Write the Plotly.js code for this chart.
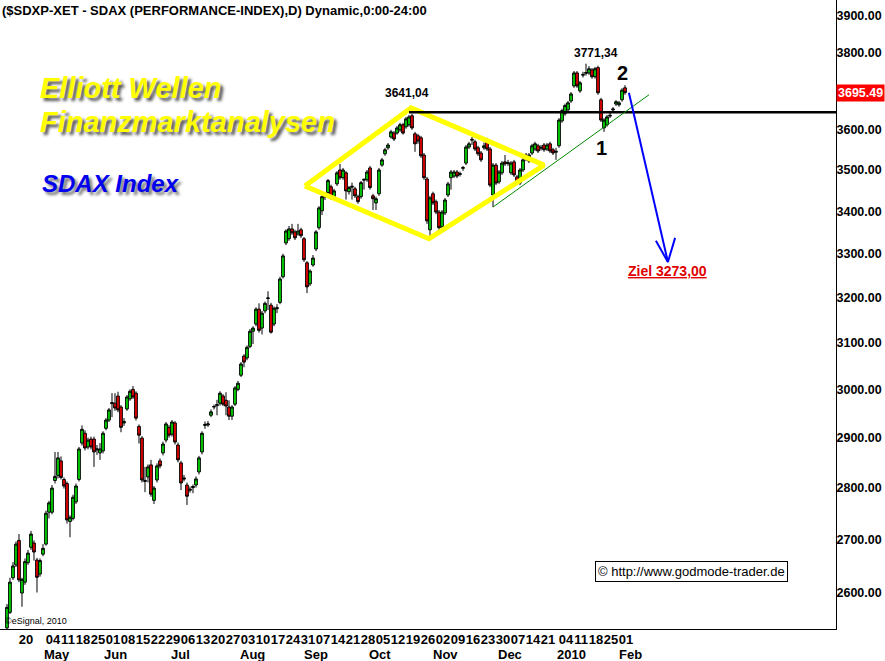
<!DOCTYPE html>
<html><head><meta charset="utf-8">
<script src="https://cdn.plot.ly/plotly-3.0.1.min.js"></script>
<style>html,body{margin:0;padding:0;background:#fff}#chart{width:885px;height:661px}</style>
</head><body><div id="chart"></div>
<script>
// Daily candles, SDAX performance index, 14 Apr 2009 .. 3 Feb 2010 (trading-day index)
const openP = [2537,2565,2628,2652,2698,2600,2620,2656,2685,2693,2661,2635,2672,2691,2752,2752,2814,2824,2853,2816,
2808,2734,2740,2772,2816,2889,2909,2881,2897,2897,2875,2869,2873,2919,2936,2970,2971,2986,2963,2930,
2959,2980,3000,2992,2923,2899,2812,2821,2845,2775,2815,2853,2869,2895,2921,2907,2930,2885,2849,2819,
2805,2797,2800,2805,2831,2871,2925,2926,2946,2963,2966,2971,2986,2977,2963,2944,2969,3000,3030,3071,
3067,3092,3125,3141,3174,3132,3170,3198,3183,3141,3175,3189,3247,3325,3335,3358,3351,3346,3356,3335,
3279,3231,3274,3311,3361,3401,3434,3445,3459,3435,3466,3500,3481,3493,3447,3458,3454,3435,3435,3475,
3476,3505,3437,3420,3442,3512,3540,3555,3582,3592,3592,3600,3613,3608,3613,3636,3590,3585,3580,3537,
3478,3356,3442,3423,3398,3363,3396,3439,3481,3485,3495,3489,3504,3517,3557,3574,3570,3555,3542,3555,
3570,3552,3439,3512,3471,3493,3520,3516,3493,3520,3483,3468,3500,3527,3522,3542,3552,3560,3554,3562,
3552,3565,3550,3544,3560,3623,3641,3651,3674,3713,3747,3700,3741,3746,3747,3755,3737,3761,3677,3605,
3613,3635,3651,3666,3664,3677,3708];
const highP = [2580,2628,2657,2696,2710,2628,2664,2680,2716,2698,2665,2664,2691,2755,2774,2805,2871,2871,2862,2820,
2812,2746,2786,2808,2881,2925,2915,2900,2902,2902,2885,2889,2913,2940,2961,2992,2992,2995,2967,2940,
2988,3000,3007,2996,2927,2903,2841,2846,2855,2803,2848,2858,2892,2932,2926,2936,2934,2890,2853,2825,
2810,2802,2806,2822,2863,2913,2933,2934,2958,2968,2978,2996,2990,2994,2977,2967,3007,3018,3058,3075,
3094,3130,3136,3178,3187,3170,3191,3214,3188,3180,3185,3247,3300,3357,3365,3370,3356,3370,3361,3339,
3283,3264,3297,3355,3412,3440,3446,3478,3464,3454,3497,3515,3505,3497,3461,3469,3459,3440,3473,3479,
3500,3510,3442,3435,3505,3530,3555,3567,3600,3597,3610,3618,3618,3633,3638,3641.04,3595,3590,3585,3542,
3483,3437,3447,3428,3403,3403,3432,3471,3500,3500,3500,3496,3510,3562,3570,3582,3575,3560,3547,3568,
3580,3557,3517,3517,3500,3522,3537,3525,3522,3525,3488,3505,3530,3542,3542,3565,3570,3565,3562,3567,
3567,3570,3555,3555,3630,3654,3667,3674,3697,3752,3752,3726,3750,3771.34,3765,3760,3763,3766,3682,3630,
3638,3645,3658,3676,3674,3707,3715];
const lowP = [2528,2562,2624,2648,2620,2575,2615,2652,2680,2660,2601,2630,2668,2688,2740,2748,2808,2818,2816,2798,
2730,2704,2736,2768,2812,2884,2874,2876,2876,2841,2865,2855,2868,2915,2932,2942,2955,2952,2911,2924,
2955,2976,2980,2935,2888,2810,2791,2810,2782,2768,2810,2838,2864,2890,2900,2902,2886,2850,2795,2812,
2766,2790,2789,2800,2826,2866,2918,2922,2942,2958,2946,2966,2965,2946,2936,2936,2965,2996,3026,3047,
3062,3088,3097,3136,3122,3118,3165,3172,3120,3136,3165,3185,3243,3320,3330,3344,3332,3342,3337,3281,
3210,3226,3270,3306,3356,3391,3427,3440,3428,3430,3461,3476,3476,3428,3440,3428,3432,3418,3430,3452,
3471,3452,3403,3403,3437,3508,3535,3550,3578,3572,3588,3595,3588,3603,3608,3600,3545,3565,3530,3476,
3370,3337,3415,3393,3350,3355,3391,3434,3452,3480,3480,3484,3498,3512,3552,3562,3547,3535,3520,3550,
3547,3458,3410,3463,3466,3488,3510,3510,3488,3483,3463,3463,3495,3522,3517,3537,3547,3542,3548,3545,
3547,3542,3537,3525,3555,3618,3636,3646,3669,3708,3708,3695,3735,3740,3742,3732,3732,3690,3620,3595,
3608,3630,3646,3661,3659,3672,3690];
const closeP = [2574,2620,2650,2691,2624,2625,2658,2674,2710,2676,2629,2660,2683,2750,2770,2799,2822,2859,2820,2803,
2737,2742,2781,2803,2877,2917,2879,2895,2881,2871,2877,2877,2909,2936,2957,2972,2961,2957,2921,2933,
2984,2996,2984,2940,2905,2815,2814,2841,2787,2799,2843,2843,2887,2928,2905,2932,2891,2855,2809,2817,
2783,2795,2802,2817,2859,2909,2927,2928,2953,2964,2968,2992,2969,2965,2944,2963,3003,3013,3054,3058,
3090,3125,3132,3174,3127,3165,3187,3199,3123,3176,3177,3242,3295,3353,3358,3349,3337,3353,3342,3286,
3224,3260,3290,3351,3408,3435,3436,3474,3432,3449,3493,3481,3500,3449,3457,3460,3437,3423,3469,3477,
3495,3457,3430,3430,3500,3525,3550,3562,3595,3577,3605,3613,3592,3628,3633,3605,3565,3572,3535,3481,
3377,3432,3420,3398,3361,3398,3427,3466,3495,3495,3485,3491,3506,3557,3565,3576,3552,3540,3525,3560,
3552,3463,3512,3468,3495,3517,3515,3518,3517,3488,3468,3500,3525,3537,3537,3560,3565,3547,3556,3550,
3562,3547,3542,3546,3625,3649,3662,3669,3692,3747,3713,3721,3743,3748,3758,3737,3758,3695,3625,3625,
3633,3637,3653,3672,3669,3702,3695.49];

// Weekly tick labels (trading-day index of first day of week)
const weekIdx = [4,13,18,23,28,33,38,43,48,53,58,63,68,73,78,83,88,93,98,103,108,113,118,123,128,133,138,143,148,153,158,163,168,173,178,184,189,194,199,204];
const weekLabels = ["20","04","11","18","25","01","08","15","22","29","06","13","20","27","03","10","17","24","31","07","14","21","28","05","12","19","26","02","09","16","23","30","07","14","21","04","11","18","25","01"];
const monthPos = [16.7,36.3,57.7,81.7,103,124.3,146.3,167.7,188,207.7];
const monthLabels = ["May","Jun","Jul","Aug","Sep","Oct","Nov","Dec","2010","Feb"];

const priceTicks = [2600,2700,2800,2900,3000,3100,3200,3300,3400,3500,3600,3800,3900];
const priceTickText = ["2600.00","2700.00","2800.00","2900.00","3000.00","3100.00","3200.00","3300.00","3400.00","3500.00","3600.00","3800.00","3900.00"];

// Drawing annotations (chart analysis)
const diamondX = [99.3,134.7,179,140.7,99.3];
const diamondY = [3461,3656,3512,3335,3461];
const resistX = [134,277];
const resistY = [3645,3645];
const trendX = [162,214];
const trendY = [3410,3690];
const arrowX = [207.3,220.3,null,216.3,220.3,222.7];
const arrowY = [3695,3281,null,3330,3281,3337];
const lastClose = 3695.49;

const FONT = 'Liberation Sans, Arial, sans-serif';
const idx = openP.map((_, i) => i);

const traces = [
  {type:'scatter', mode:'lines', x:diamondX, y:diamondY, line:{color:'#ffff00', width:5}, hoverinfo:'skip'},
  {type:'candlestick', x:idx, open:openP, high:highP, low:lowP, close:closeP, whiskerwidth:0,
   increasing:{line:{color:'#000000', width:1}, fillcolor:'#00dd00'},
   decreasing:{line:{color:'#000000', width:1}, fillcolor:'#ee0000'}},
  {type:'scatter', mode:'lines', x:resistX, y:resistY, line:{color:'#000000', width:2.5}, hoverinfo:'skip'},
  {type:'scatter', mode:'lines', x:trendX, y:trendY, line:{color:'#008800', width:1}, hoverinfo:'skip'},
  {type:'scatter', mode:'lines', x:arrowX, y:arrowY, line:{color:'#0000ff', width:2}, hoverinfo:'skip', connectgaps:false}
];

const L10 = Math.log10;
const annotations = [
  {xref:'paper', yref:'paper', x:0, y:1, xanchor:'left', yanchor:'top', showarrow:false, yshift:-1,
   text:'($SDXP-XET - SDAX (PERFORMANCE-INDEX),D) Dynamic,0:00-24:00', font:{family:FONT, size:13, weight:700, color:'#000'}},
  {xref:'paper', yref:'paper', x:0.046, y:0.8601, xanchor:'left', yanchor:'middle', showarrow:false,
   text:'Elliott Wellen', font:{family:FONT, size:29, weight:700, style:'italic', color:'#ffff00', shadow:'3px 3px 3px rgba(0,0,0,0.65)'}},
  {xref:'paper', yref:'paper', x:0.046, y:0.806, xanchor:'left', yanchor:'middle', showarrow:false,
   text:'Finanzmarktanalysen', font:{family:FONT, size:29, weight:700, style:'italic', color:'#ffff00', shadow:'3px 3px 3px rgba(0,0,0,0.65)'}},
  {xref:'paper', yref:'paper', x:0.048, y:0.7075, xanchor:'left', yanchor:'middle', showarrow:false,
   text:'SDAX Index', font:{family:FONT, size:24, weight:700, style:'italic', color:'#0000ee', shadow:'3px 3px 3px rgba(0,0,0,0.55)'}},
  {xref:'x', yref:'y', x:133.3, y:L10(3695), showarrow:false, text:'3641,04', font:{family:FONT, size:12, weight:700, color:'#000'}},
  {xref:'x', yref:'y', x:196.3, y:L10(3800), showarrow:false, text:'3771,34', font:{family:FONT, size:12, weight:700, color:'#000'}},
  {xref:'x', yref:'y', x:205.3, y:L10(3747), showarrow:false, text:'2', font:{family:FONT, size:20, weight:700, color:'#000'}},
  {xref:'x', yref:'y', x:198.3, y:L10(3555), showarrow:false, text:'1', font:{family:FONT, size:20, weight:700, color:'#000'}},
  {xref:'x', yref:'y', x:220, y:L10(3260), showarrow:false, text:'<u>Ziel 3273,00</u>', font:{family:FONT, size:14, weight:700, color:'#e00000'}},
  {xref:'paper', yref:'paper', x:0.8266, y:0.0922, xanchor:'center', yanchor:'middle', showarrow:false, text:'© http://www.godmode-trader.de',
   font:{family:FONT, size:13, color:'#000'}, bgcolor:'#ffffff', bordercolor:'#000000', borderwidth:1, borderpad:2},
  {xref:'paper', yref:'paper', x:0.003, y:0.0127, xanchor:'left', yanchor:'middle', showarrow:false, text:'©eSignal, 2010',
   font:{family:FONT, size:9, color:'#000'}},
  {xref:'paper', yref:'y', x:1, y:L10(lastClose), xanchor:'left', yanchor:'middle', xshift:0, showarrow:false,
   text:String(lastClose), bgcolor:'#ff0000', borderpad:1, font:{family:FONT, size:12.5, weight:700, color:'#ffffff'}}
];
monthLabels.forEach((m, i) => annotations.push({xref:'x', yref:'paper', x:monthPos[i], y:-0.0405, yanchor:'middle',
  showarrow:false, text:m, font:{family:FONT, size:13, weight:700, color:'#000'}}));

const layout = {
  width:885, height:661, margin:{l:0, r:49, t:0, b:32}, paper_bgcolor:'#fff', plot_bgcolor:'#fff',
  showlegend:false, boxgap:0.05, boxgroupgap:0.05, hovermode:false,
  xaxis:{range:[-2.33,276.33], tickmode:'array', tickvals:weekIdx, ticktext:weekLabels, ticks:'', showgrid:false, zeroline:false,
    showline:true, linecolor:'#000', linewidth:1, ticklabelshift:7, ticklabelstandoff:-2, tickangle:0,
    tickfont:{family:FONT, size:13, weight:700, color:'#000'}, rangeslider:{visible:false}},
  yaxis:{type:'log', side:'right', range:[3.40400,3.59594], tickmode:'array', tickvals:priceTicks, ticktext:priceTickText,
    ticks:'', showgrid:false, zeroline:false, showline:true, linecolor:'#000', linewidth:1, ticklabelstandoff:-3,
    tickfont:{family:FONT, size:12.5, weight:700, color:'#000'}},
  annotations:annotations
};
Plotly.newPlot('chart', traces, layout, {staticPlot:true});
</script></body></html>
